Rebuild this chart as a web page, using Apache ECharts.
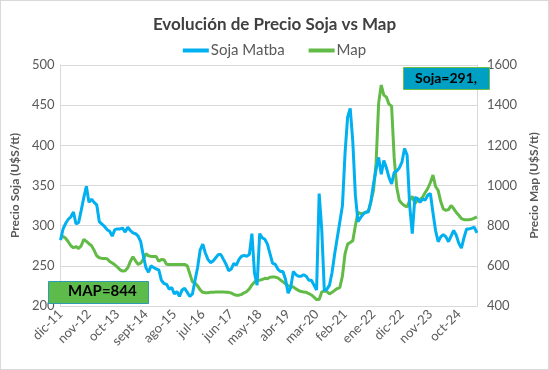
<!DOCTYPE html>
<html>
<head>
<meta charset="utf-8">
<script src="https://cdn.jsdelivr.net/npm/echarts@6/dist/echarts.min.js"></script>
<style>
html,body{margin:0;padding:0;background:#fff;}
#wrap{width:549px;height:370px;box-sizing:border-box;border:1px solid #d9d9d9;}
#chart{width:547px;height:368px;}
</style>
</head>
<body>
<div id="wrap"><div id="chart"></div></div>
<script>
const monthNames = ['ene','feb','mar','abr','may','jun','jul','ago','sept','oct','nov','dic'];
const startYear = 2011, startMonth = 11; // dic-11
const soja = [
282,296,303,308,311,317,302,304,319,335,
349,329,333,329,326,305,302,299,295,293,
287,295,296,296,297,292,298,294,291,290,
287,280,263,248,242,250,248,246,245,232,
228,227,221,223,215,218,212,220,222,217,
212,215,232,248,270,277,266,258,254,256,
260,264,264,258,252,244,246,253,251,258,
262,263,262,264,290,241,226,290,285,283,
277,265,253,252,246,243,243,233,216,223,
243,239,237,237,239,237,232,232,226,220,
340,295,219,221,226,242,265,285,305,325,
390,435,446,405,338,305,310,314,317,317,
330,352,370,385,364,381,372,360,352,366,
368,372,379,396,388,325,290,335,334,329,
333,332,338,340,316,294,280,286,289,286,
280,287,294,288,278,272,285,296,296,297,
298,291];
const map = [
743,746,737,720,700,690,696,686,700,732,
722,710,700,677,650,640,637,636,635,622,
614,605,594,580,574,576,590,622,645,625,
607,614,632,660,650,647,647,646,622,632,
630,608,607,607,607,607,607,607,607,600,
560,520,515,500,480,468,466,466,468,469,
470,470,470,470,469,468,465,458,453,454,
458,466,472,485,505,520,525,529,532,538,
536,543,544,544,540,530,520,510,501,497,
495,485,478,472,470,468,462,455,444,432,
432,470,474,472,460,468,478,487,492,550,
660,708,716,725,800,866,860,862,866,870,
920,975,1110,1410,1500,1450,1440,1405,1395,1140,
990,925,910,900,893,926,946,910,926,930,
942,965,985,1015,1052,995,976,920,883,876,
880,900,885,866,852,835,830,830,830,832,
838,844];
const categories = soja.map((_, i) => {
  const t = startMonth + i;
  const mi = t % 12;
  const yr = startYear + Math.floor(t / 12);
  return monthNames[mi] + '-' + String(yr % 100).padStart(2, '0');
});
const sojaLabel = 'Soja=291,';
const mapLabel = 'MAP=844';

const FONT = 'Lato, "Liberation Sans", sans-serif';
const chart = echarts.init(document.getElementById('chart'));
chart.setOption({
  animation: false,
  textStyle: {fontFamily: FONT},
  title: {
    text: 'Evolución de Precio Soja vs Map',
    left: 'center', top: 10,
    textStyle: {fontSize: 17, fontWeight: 'bold', color: '#404040', fontFamily: FONT}
  },
  legend: {
    top: 37, left: 'center',
    itemWidth: 26, itemHeight: 4, itemGap: 24,
    icon: 'rect',
    textStyle: {fontSize: 15, color: '#595959', fontFamily: FONT, padding: [0,0,0,-3]},
    data: ['Soja Matba', 'Map']
  },
  grid: {left: 47, right: 56, top: 64, bottom: 63, containLabel: false},
  xAxis: {
    type: 'category', data: categories, boundaryGap: false,
    axisLine: {lineStyle: {color: '#d9d9d9'}},
    axisTick: {show: false},
    axisLabel: {interval: 10, rotate: 45, fontSize: 13, color: '#595959', margin: 6, fontFamily: FONT},
    splitLine: {show: false}
  },
  yAxis: [{
    type: 'value', min: 200, max: 500, interval: 50,
    name: 'Precio Soja (U$S/tt)', nameLocation: 'middle', nameGap: 36, nameRotate: 90,
    nameTextStyle: {fontSize: 12, fontWeight: 'bold', color: '#595959', fontFamily: FONT},
    axisLine: {show: true, lineStyle: {color: '#d9d9d9'}},
    axisTick: {show: false},
    axisLabel: {fontSize: 13, color: '#595959', margin: 6, fontFamily: FONT},
    splitLine: {lineStyle: {color: '#d9d9d9'}}
  }, {
    type: 'value', min: 400, max: 1600, interval: 200, position: 'right',
    name: 'Precio Map (U$S/tt)', nameLocation: 'middle', nameGap: 46, nameRotate: 90,
    nameTextStyle: {fontSize: 12, fontWeight: 'bold', color: '#595959', fontFamily: FONT},
    axisLine: {show: true, lineStyle: {color: '#d9d9d9'}},
    axisTick: {show: false},
    axisLabel: {fontSize: 13, color: '#595959', margin: 10, fontFamily: FONT, formatter: v => String(v)},
    splitLine: {show: false}
  }],
  series: [{
    name: 'Soja Matba', type: 'line', data: soja, yAxisIndex: 0,
    symbol: 'none', lineStyle: {width: 3, color: '#00B0F0'}, itemStyle: {color: '#00B0F0'}, z: 3
  }, {
    name: 'Map', type: 'line', data: map, yAxisIndex: 1,
    symbol: 'none', lineStyle: {width: 3, color: '#62BB46'}, itemStyle: {color: '#62BB46'}, z: 2
  }],
  graphic: [{
    type: 'rect', left: 47, top: 280, z: 10,
    shape: {width: 100, height: 22},
    style: {fill: '#5CBB4B', stroke: '#2E9DB0', lineWidth: 1}
  }, {
    type: 'text', left: 67, top: 283, z: 11,
    style: {text: mapLabel, fontSize: 15, fontWeight: 'bold', fill: '#000', fontFamily: FONT}
  }, {
    type: 'rect', left: 402, top: 66, z: 10,
    shape: {width: 86, height: 22},
    style: {fill: '#009FC4', stroke: '#6CC04A', lineWidth: 1}
  }, {
    type: 'text', left: 414, top: 70, z: 11,
    style: {text: sojaLabel, fontSize: 14, fontWeight: 'bold', fill: '#000', fontFamily: FONT}
  }]
});
</script>
</body>
</html>
